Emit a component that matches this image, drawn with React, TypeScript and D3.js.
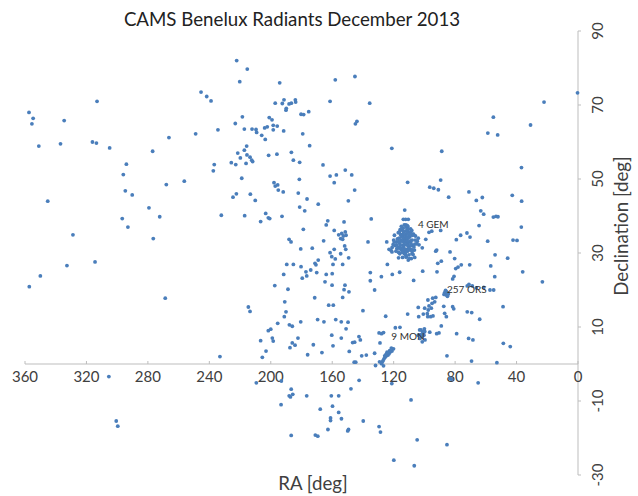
import React from 'react';
import * as d3 from 'd3';

// radiant positions: [RA, Dec] in degrees
const westNorth: [number, number][] = [
  [294, 54], [296, 51.2], [294.7, 46.8], [290.2, 45.7], [345.2, 44], [268, 48.5], [256.3, 49.4], [279.3, 42.2],
  [296.7, 39.3], [293, 37], [272.3, 39.8], [328.8, 34.9], [276.5, 33.9], [332.7, 26.6], [314.4, 27.6], [350, 23.8],
  [357.2, 20.9], [268.7, 17.8], [237.4, 52.2], [236.8, 53.9], [225.7, 54.4], [222.8, 53.9], [216.1, 54.2], [211.8, 54.7],
  [218.9, 50.2], [224.6, 45.1], [222.4, 46], [213.3, 45.9], [210.1, 44.2], [232.2, 40.2], [217, 40.1], [206.6, 38.5],
  [203.3, 40.7], [201.6, 39.5], [200.7, 39.3], [192.7, 39.9], [197.9, 49], [197.1, 48.1], [195.5, 48.4], [195.1, 47],
  [191.9, 46.5], [185.3, 55.1], [181.2, 54.5], [181.4, 49.9], [182.1, 46.2], [176.4, 44.6], [181.2, 42.4], [177.9, 41.4],
  [169.1, 43.2], [178.8, 36.4], [188.1, 33.7], [186.8, 33], [180.5, 31.1], [173, 31.3], [169.1, 28.1], [189.6, 26.9],
  [185.3, 26.9], [180.3, 26.3], [177.1, 24.9], [174, 25.4], [171.2, 27.2], [170.6, 26.8], [170.1, 24.7], [176.6, 23.8],
  [179.5, 23.2], [191.6, 24.2], [197.4, 21.2], [188.8, 20.2], [171.4, 17.9], [190.9, 16.8], [190.1, 14.1], [191.2, 12.8],
  [195.5, 11], [187.9, 10.6], [186, 10.2], [180.5, 11.4], [169.5, 12], [214.6, 15.4], [213.5, 14.2], [201.6, 9],
  [200, 9.4], [206.6, 6.3], [199, 7], [198.4, 6.2], [182.3, 7], [186, 5.7], [184.2, 5.1], [187.5, 4.4],
  [172.3, 5.2], [176, 2.5], [203.1, 3.5], [205.5, 1.8], [233.1, 2],
];

const middle: [number, number][] = [
  [166, 53.8], [161.4, 50.8], [157.3, 51.1], [151.5, 52.4], [158.7, 49], [149.5, 44.1], [162.9, 38.7], [163.9, 37.6],
  [152.3, 38.4], [158.7, 36.1], [155.8, 34.9], [153.8, 35.3], [152.8, 34.6], [154.5, 33.9], [151.5, 35.7], [151, 34.8],
  [153.2, 33.7], [165.6, 33.3], [158.7, 31], [161.4, 30.1], [160.3, 29], [154.5, 29.8], [151.9, 31.9], [151.2, 31],
  [149.3, 28.7], [158, 28.4], [153.2, 26.9], [159.5, 26.9], [160, 24.4], [163.9, 24.2], [164.7, 22.2], [160.1, 21.3],
  [151.7, 21.3], [152.3, 20.1], [149.1, 19.5], [153.2, 18], [162.3, 15.9], [159.3, 15.9], [157.7, 12], [165.4, 11.4],
  [154.1, 11.4], [149.7, 11.3], [151, 9.5], [160.3, 7.8], [154.1, 7], [159.5, 4.9], [166.7, 3.1], [148.9, 3.4],
];

const highNorth: [number, number][] = [
  [222.2, 82], [215.3, 79.7], [220.2, 76.3], [194.2, 76], [158, 76.8], [245.4, 73.5], [241.7, 72.3], [238.9, 71.1],
  [161.4, 71], [197.1, 70.5], [192.5, 70.4], [191.4, 71.4], [189.9, 69.1], [190.1, 68.6], [188.1, 70.3], [186.6, 70.5],
  [184, 71.4], [183.8, 70.8], [180.3, 67.5], [178.6, 67.4], [175.3, 68.2], [218.5, 66.8], [223.1, 65], [234.4, 63.3],
  [248.9, 62.2], [266.3, 61.2], [276.9, 57.5], [217.2, 63.5], [212.2, 63.5], [209.6, 63.4], [209.2, 62.6], [205.9, 61.8],
  [203.6, 60.7], [204, 63.8], [202.3, 64.1], [201, 66.6], [199.2, 66], [198.4, 64.5], [195.8, 64.3], [198.4, 63.3],
  [191.6, 63], [179.2, 62.2], [174.7, 59], [215.7, 58.9], [217.2, 57.8], [221.5, 57], [215.5, 56.5], [213.5, 55.9],
  [212.4, 55.1], [219.8, 55.7], [201.4, 56.4], [196, 56.7], [186.6, 57.2],
  [357.4, 68], [354.7, 66.4], [355.5, 64.9], [334.5, 65.8], [313.1, 71], [351, 58.9], [336.9, 59.5], [316.1, 60],
  [313.5, 59.7], [304.9, 58.4], [145.2, 77.7], [135.6, 70.5], [144.9, 64.9], [143.9, 65.6], [121.2, 58.3], [88.7, 57.5],
  [58.7, 62.4], [52.3, 61.9], [55.1, 66.7], [30.9, 64.6], [22.1, 70.8], [0.3, 73.3], [36.8, 53.1],
];

const eastNorth: [number, number][] = [
  [147.3, 51.1], [145.4, 47], [110.9, 49.1], [96.5, 47.8], [93.9, 47.5], [90.9, 47.1], [89.4, 49.7], [84.2, 45.1],
  [71, 46.5], [66.2, 44.2], [62.3, 45], [42.8, 45.6], [36.7, 44], [63.3, 41.4], [61.4, 40.5], [55.1, 39.7],
  [53.4, 39.9], [52.1, 39.8], [64.4, 37.4], [36.9, 37], [42.3, 33.5], [39.7, 33.4], [58.8, 33.2], [45.8, 28.6],
  [54, 29.5], [36, 24.9], [23.2, 22.2], [112.8, 41.6], [134.6, 39.2], [113.7, 39.1], [112.2, 39.1], [110.5, 39.1],
  [112, 37.6], [110.7, 37.1], [107.2, 35.1], [124.5, 33], [123, 31], [121.7, 30.7], [121.1, 30.3], [136.7, 33],
  [99.1, 33.7], [97, 35.6], [95.2, 35.9], [89.4, 36.1], [92, 30.8], [92.6, 30.5], [112, 28.9], [108.5, 28.5],
  [110.5, 28.1], [106.3, 28.8], [101.4, 31.4], [124.1, 26.9], [101.1, 25.1], [116.1, 24.8], [120.9, 24.2], [128, 23.6],
  [135.2, 24.7], [135.2, 22.5], [132.4, 20], [107, 22.6], [91.3, 27.2], [91.8, 24.9], [89, 27.8], [83.3, 30.3],
  [79.2, 33.6], [76.4, 34.8], [72.3, 35.4], [70.3, 34.3], [80.3, 28.5], [79.6, 25.8], [80.7, 23.7], [81.6, 23],
  [78.1, 26.2], [76, 26.8], [70.5, 26.8], [54.2, 23.6], [56.8, 26.5], [72.1, 21.1], [71, 21.5], [68.8, 21.1],
  [66.2, 20.6], [61.4, 20.7], [57.3, 20], [54.9, 20], [81.6, 15.5], [80.9, 14.9], [87.4, 15.6], [69.2, 13.9],
  [72.1, 14.1], [64, 12.1], [48.8, 15.5],
  [92.6, 18], [93.3, 16.8], [95, 16.4], [95.5, 15.1], [97, 15.7], [99.8, 15.1], [100.7, 13.5], [98.1, 13.6],
  [94.4, 13], [97.8, 12.8], [95.9, 12.8], [97.5, 14.6], [94.6, 17.8], [97.7, 17.3], [86.8, 13.7], [85.7, 12.8],
  [89, 10.3], [92, 8.2], [90.5, 8.4], [96.5, 8.6], [104, 15.3], [103.7, 12.8], [110.9, 13.5], [125.2, 12.9],
  [140, 14.4], [115.9, 9.9], [118.9, 9.8], [129.5, 8.4], [127.9, 8.2], [126.6, 8.5], [146.7, 5.8], [145.4, 5.9],
  [141.7, 6.5], [142.6, 7.4], [128.9, 5.7], [79, 8.2], [71.2, 6.9], [68.4, 6.5], [48.6, 5.6], [44.1, 4.7],
  [85.3, 2.2], [132.4, 2.9], [137.8, 2.4], [140.8, 2.2], [145.7, 0.5], [144.7, 0.5], [69.3, 0.8], [52.8, 0.35],
];

const southern: [number, number][] = [
  [305.4, -3.4], [209.4, -5.1], [193.1, -4.6], [186.7, -6.8], [185.7, -8.2], [188, -8.6], [187.2, -8.9], [176.6, -8.6],
  [193.3, -11], [142.5, -4.4], [147.8, -6.7], [160.6, -8.6], [155.8, -8.6], [159.8, -11.4], [167.8, -12.2], [155.8, -13.1],
  [154, -14.8], [161.1, -14.6], [161.1, -15.3], [139.8, -15.4], [162.8, -17.7], [149.4, -17.7], [149.9, -18.1], [129.5, -16.9],
  [128.6, -18.4], [121.2, -5.3], [108.7, -9.7], [104.7, -20.5], [186.7, -19.3], [171, -19.2], [169.4, -19.5], [119.9, -26],
  [106.6, -27.5], [85.3, -21.8], [83.4, -3.8], [82.4, -4.1], [65, -5.1], [300.6, -15.4], [299.6, -16.8],
];

const gem: [number, number][] = [
  [112, 33], [113, 33.5], [111, 32.5], [114, 32], [110, 33], [112.5, 34], [113.5, 31.5], [111.5, 31], [115, 33.5], [109, 32],
  [116, 32.5], [108, 33.5], [112, 35], [114, 35], [110, 34.5], [117, 31.5], [111, 30.5], [113, 30.5], [115, 30.8], [109, 30.8],
  [116.5, 34], [107.5, 32], [118, 33], [106, 33.5], [112, 36], [110.5, 35.8], [114.5, 36.2], [119, 32], [105, 32.5], [113, 29.8],
  [110, 29.5], [116, 29.8], [108, 29.9], [117, 35.5], [107, 35], [120, 33.5], [104, 34], [112.8, 32.2], [111.2, 33.8], [113.8, 34.2],
  [110.2, 31.8], [114.8, 31.2], [109.5, 34.3], [115.5, 35], [108.5, 31], [118.5, 30.5], [106.5, 30.8], [112, 37], [115, 37.2], [109, 36.5],
  [121, 31.5], [103.5, 32.2], [119.5, 34.8], [111.7, 29], [114.2, 28.8], [109.8, 28.5], [116.8, 28.7], [113.3, 32.8], [110.8, 32], [114.6, 33.2],
  [111.9, 34.6], [109.2, 33.3], [116.2, 31.3], [107.8, 34.8], [113.6, 35.8], [110.9, 36.5], [117.6, 33.8], [106.8, 31.6], [115.8, 36.3], [108.9, 35.6],
  [118.2, 32.2], [105.8, 34.6], [112.4, 30.1], [116.9, 30.2], [107.4, 29.6],
  [111.5, 33.2], [112.7, 31], [110.4, 30.9], [114.3, 30.2], [108.7, 32.6], [115.7, 32.1], [113.9, 36.7], [111.4, 35.4], [109.6, 35.1], [116.6, 33.1],
  [107.9, 30.6], [112.2, 29.6], [110.6, 34.1], [113.2, 34.9], [114.9, 34.4], [117.9, 31.2], [106.2, 32.4], [119.6, 33], [111.1, 37.4], [113.1, 37.6],
  [108.2, 36.1], [120.3, 32.3], [104.6, 33.2], [116.3, 35.7], [110, 31.4],
];

const ors: [number, number][] = [
  [86.8, 19.3], [85.5, 19.5], [85.9, 18.7], [84.4, 18.9], [87.2, 18.8], [86.2, 19.9], [85, 18.3],
];

const mon: [number, number][] = [
  [102.2, 9.2], [101.1, 8.7], [100.3, 7.8], [101.8, 7.4], [99.6, 6.5], [100.7, 8.3], [104, 7.8], [102.9, 6.9],
  [103.1, 9.2], [101.4, 6], [100, 9.5], [102.5, 7.9], [99.8, 8.8],
];

const monTail: [number, number][] = [
  [120.1, 4.1], [121.1, 3.5], [122.4, 3.2], [123, 2.8], [123.7, 2.4], [124.7, 2.2], [125.6, 1.8], [126.3, 1.4],
  [126.9, 0.9], [127.6, 0.5], [127.9, 0.1], [122.6, 3.6], [124.3, 3.2], [125.8, 2.2], [129.2, 0.6], [126.6, -0.5],
  [131.8, -0.4], [121.5, 4.3], [124, 2.9], [125, 2.6],
];

const showerLabels = [
  { name: '4 GEM', ra: 104.2, dec: 36.8 },
  { name: '257 ORS', ra: 85.3, dec: 19.2 },
  { name: '9 MON', ra: 121.5, dec: 6.5 },
];

const xTicks = [360, 320, 280, 240, 200, 160, 120, 80, 40, 0];
const yTicks = [-30, -10, 10, 30, 50, 70, 90];

const font = "Lato, 'Open Sans', sans-serif";
const axisColor = '#bdbdbd';
const textColor = '#404040';

export default function App() {
  const x = d3.scaleLinear().domain([360, 0]).range([25, 578]);
  const y = d3.scaleLinear().domain([-30, 90]).range([475, 31]);

  const points = [...westNorth, ...middle, ...highNorth, ...eastNorth, ...southern, ...gem, ...ors, ...mon, ...monTail];

  return (
    <svg width={638} height={496} style={{ position: 'absolute', left: 0, top: 0, background: '#fff' }} fontFamily={font}>
      <text x={292} y={26} textAnchor="middle" fontSize={18.7} fill="#222">CAMS Benelux Radiants December 2013</text>

      {/* axes cross at RA 0 / Dec 0 */}
      <line x1={x(360)} x2={x(0)} y1={y(0)} y2={y(0)} stroke={axisColor} />
      <line x1={x(0)} x2={x(0)} y1={y(90)} y2={y(-30)} stroke={axisColor} />
      {xTicks.map(t => (
        <g key={'x' + t}>
          <line x1={x(t)} x2={x(t)} y1={y(0)} y2={y(0) - 3} stroke={axisColor} />
          <text x={x(t)} y={382} textAnchor="middle" fontSize={15} fill={textColor}>{t}</text>
        </g>
      ))}
      {yTicks.map(t => (
        <g key={'y' + t}>
          <line x1={x(0)} x2={x(0) + 3} y1={y(t)} y2={y(t)} stroke={axisColor} />
          <text transform={`translate(603,${y(t)}) rotate(-90)`} textAnchor="middle" fontSize={15} fill={textColor}>{t}</text>
        </g>
      ))}

      <text x={313} y={490} textAnchor="middle" fontSize={18.7} fill={textColor}>RA [deg]</text>
      <text transform="translate(628,226) rotate(-90)" textAnchor="middle" fontSize={18.7} fill={textColor}>Declination [deg]</text>

      {points.map((d, i) => (
        <circle key={i} cx={x(d[0])} cy={y(d[1])} r={1.9} fill="#4a7ebb" />
      ))}

      {showerLabels.map(s => (
        <text key={s.name} x={x(s.ra)} y={y(s.dec)} fontSize={10} fill="#303030">{s.name}</text>
      ))}
    </svg>
  );
}
